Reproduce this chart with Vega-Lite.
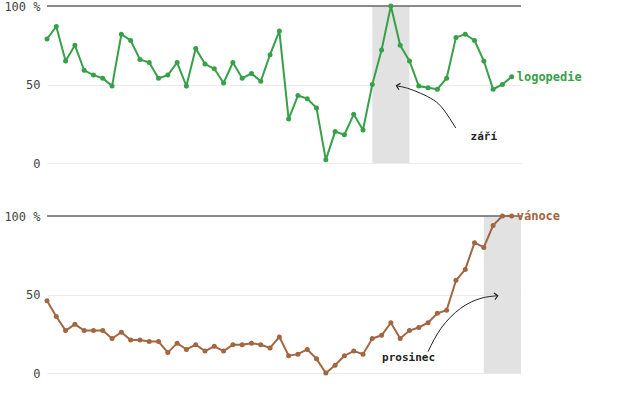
{
  "$schema": "https://vega.github.io/schema/vega-lite/v6.json",
  "padding": {"left": 3, "top": 0, "right": 5, "bottom": 5},
  "background": "white",
  "datasets": {
    "logo": [
      {"t":0,"v":79},{"t":1,"v":87},{"t":2,"v":65},{"t":3,"v":75},{"t":4,"v":59},{"t":5,"v":56},{"t":6,"v":54},{"t":7,"v":49},
      {"t":8,"v":82},{"t":9,"v":78},{"t":10,"v":66},{"t":11,"v":64},{"t":12,"v":54},{"t":13,"v":56},{"t":14,"v":64},{"t":15,"v":49},
      {"t":16,"v":73},{"t":17,"v":63},{"t":18,"v":60},{"t":19,"v":51},{"t":20,"v":64},{"t":21,"v":54},{"t":22,"v":57},{"t":23,"v":52},
      {"t":24,"v":69},{"t":25,"v":84},{"t":26,"v":28},{"t":27,"v":43},{"t":28,"v":41},{"t":29,"v":35},
      {"t":30,"v":2},{"t":31,"v":20},{"t":32,"v":18},{"t":33,"v":31},{"t":34,"v":21},
      {"t":35,"v":50},{"t":36,"v":72},{"t":37,"v":100},{"t":38,"v":75},{"t":39,"v":65},
      {"t":40,"v":49},{"t":41,"v":48},{"t":42,"v":47},{"t":43,"v":54},{"t":44,"v":80},{"t":45,"v":82},{"t":46,"v":78},{"t":47,"v":65},{"t":48,"v":47},{"t":49,"v":50},{"t":50,"v":55}
    ],
    "van": [
      {"t":0,"v":46},{"t":1,"v":36},{"t":2,"v":27},{"t":3,"v":31},{"t":4,"v":27},{"t":5,"v":27},{"t":6,"v":27},{"t":7,"v":22},
      {"t":8,"v":26},{"t":9,"v":21},{"t":10,"v":21},{"t":11,"v":20},{"t":12,"v":20},{"t":13,"v":13},{"t":14,"v":19},{"t":15,"v":15},
      {"t":16,"v":18},{"t":17,"v":14},{"t":18,"v":17},{"t":19,"v":14},{"t":20,"v":18},{"t":21,"v":18},{"t":22,"v":19},{"t":23,"v":18},
      {"t":24,"v":16},{"t":25,"v":23},{"t":26,"v":11},{"t":27,"v":12},{"t":28,"v":15},{"t":29,"v":9},
      {"t":30,"v":0},{"t":31,"v":5},{"t":32,"v":11},{"t":33,"v":14},{"t":34,"v":12},
      {"t":35,"v":22},{"t":36,"v":24},{"t":37,"v":32},{"t":38,"v":22},{"t":39,"v":27},
      {"t":40,"v":29},{"t":41,"v":32},{"t":42,"v":38},{"t":43,"v":40},{"t":44,"v":59},{"t":45,"v":66},{"t":46,"v":83},{"t":47,"v":80},{"t":48,"v":94},{"t":49,"v":100},{"t":50,"v":100}
    ],
    "bandTop": [{"start":35,"end":39}],
    "bandBot": [{"start":47,"end":51}],
    "arrowTop": [
      {"o":0,"t":43.98,"v":22.3},{"o":1,"t":42.7,"v":33.8},{"o":2,"t":41.6,"v":40.1},{"o":3,"t":40.2,"v":44.4},{"o":4,"t":38.8,"v":47.6},{"o":5,"t":37.6,"v":49.2}
    ],
    "arrowBot": [
      {"o":0,"t":41.0,"v":13.6},{"o":1,"t":42.4,"v":28.5},{"o":2,"t":44.5,"v":41.2},{"o":3,"t":46.7,"v":47.6},{"o":4,"t":48.5,"v":49.2}
    ],
    "headTop": [{"t":37.6,"v":49.2}],
    "headBot": [{"t":48.5,"v":49.2}],
    "noteTop": [{"t":47.0,"v":16.8,"label":"září"}],
    "noteBot": [{"t":38.9,"v":9.6,"label":"prosinec"}],
    "endTop": [{"t":50,"v":55,"label":"logopedie"}],
    "endBot": [{"t":50,"v":100,"label":"vánoce"}]
  },
  "spacing": 41,
  "vconcat": [
    {
      "width": 474,
      "height": 157,
      "encoding": {
        "x": {"field": "t", "type": "quantitative", "scale": {"domain": [0, 51], "nice": false, "zero": false}, "axis": null},
        "y": {"field": "v", "type": "quantitative", "scale": {"domain": [0, 100], "nice": false},
              "axis": {"values": [0, 50, 100], "title": null, "labelExpr": "datum.value == 100 ? '100 %' : datum.label"}}
      },
      "layer": [
        {"data": {"name": "bandTop"}, "mark": {"type": "rect", "fill": "#e2e2e2"},
         "encoding": {"x": {"field": "start", "type": "quantitative"}, "x2": {"field": "end"}, "y": null}},
        {"data": {"values": [{"v": 100}]}, "mark": {"type": "rule", "color": "#666", "strokeWidth": 1.5},
         "encoding": {"x": null, "y": {"field": "v", "type": "quantitative"}}},
        {"data": {"name": "logo"}, "mark": {"type": "line", "color": "#37a048", "strokeWidth": 2, "point": {"filled": true, "size": 25, "color": "#37a048"}}},
        {"data": {"name": "endTop"}, "mark": {"type": "text", "align": "left", "baseline": "middle", "dx": 5, "font": "DejaVu Sans Mono", "fontSize": 12, "fontWeight": "bold", "color": "#37a048"},
         "encoding": {"text": {"field": "label"}}},
        {"data": {"name": "arrowTop"}, "mark": {"type": "line", "interpolate": "natural", "color": "#222", "strokeWidth": 1},
         "encoding": {"order": {"field": "o"}}},
        {"data": {"name": "headTop"}, "mark": {"type": "point", "shape": "M-1,-1L0,0L-1,1", "angle": 193, "size": 45, "filled": false, "stroke": "#222", "strokeWidth": 1.2, "opacity": 1}},
        {"data": {"name": "noteTop"}, "mark": {"type": "text", "align": "center", "baseline": "middle", "font": "DejaVu Sans Mono", "fontSize": 11, "fontWeight": "bold", "color": "#222"},
         "encoding": {"text": {"field": "label"}}}
      ]
    },
    {
      "width": 474,
      "height": 157,
      "encoding": {
        "x": {"field": "t", "type": "quantitative", "scale": {"domain": [0, 51], "nice": false, "zero": false}, "axis": null},
        "y": {"field": "v", "type": "quantitative", "scale": {"domain": [0, 100], "nice": false},
              "axis": {"values": [0, 50, 100], "title": null, "labelExpr": "datum.value == 100 ? '100 %' : datum.label"}}
      },
      "layer": [
        {"data": {"name": "bandBot"}, "mark": {"type": "rect", "fill": "#e2e2e2"},
         "encoding": {"x": {"field": "start", "type": "quantitative"}, "x2": {"field": "end"}, "y": null}},
        {"data": {"values": [{"v": 100}]}, "mark": {"type": "rule", "color": "#666", "strokeWidth": 1.5},
         "encoding": {"x": null, "y": {"field": "v", "type": "quantitative"}}},
        {"data": {"name": "van"}, "mark": {"type": "line", "color": "#a26640", "strokeWidth": 2, "point": {"filled": true, "size": 25, "color": "#a26640"}}},
        {"data": {"name": "endBot"}, "mark": {"type": "text", "align": "left", "baseline": "middle", "dx": 5, "font": "DejaVu Sans Mono", "fontSize": 12, "fontWeight": "bold", "color": "#a26640"},
         "encoding": {"text": {"field": "label"}}},
        {"data": {"name": "arrowBot"}, "mark": {"type": "line", "interpolate": "natural", "color": "#222", "strokeWidth": 1},
         "encoding": {"order": {"field": "o"}}},
        {"data": {"name": "headBot"}, "mark": {"type": "point", "shape": "M-1,-1L0,0L-1,1", "angle": 351, "size": 45, "filled": false, "stroke": "#222", "strokeWidth": 1.2, "opacity": 1}},
        {"data": {"name": "noteBot"}, "mark": {"type": "text", "align": "center", "baseline": "middle", "font": "DejaVu Sans Mono", "fontSize": 11, "fontWeight": "bold", "color": "#222"},
         "encoding": {"text": {"field": "label"}}}
      ]
    }
  ],
  "config": {
    "view": {"stroke": null},
    "axis": {
      "labelFont": "DejaVu Sans Mono",
      "labelFontSize": 12,
      "labelColor": "#444",
      "labelPadding": 7,
      "ticks": false,
      "domain": false,
      "grid": true,
      "gridColor": "#ebebeb",
      "gridWidth": 1
    }
  }
}
